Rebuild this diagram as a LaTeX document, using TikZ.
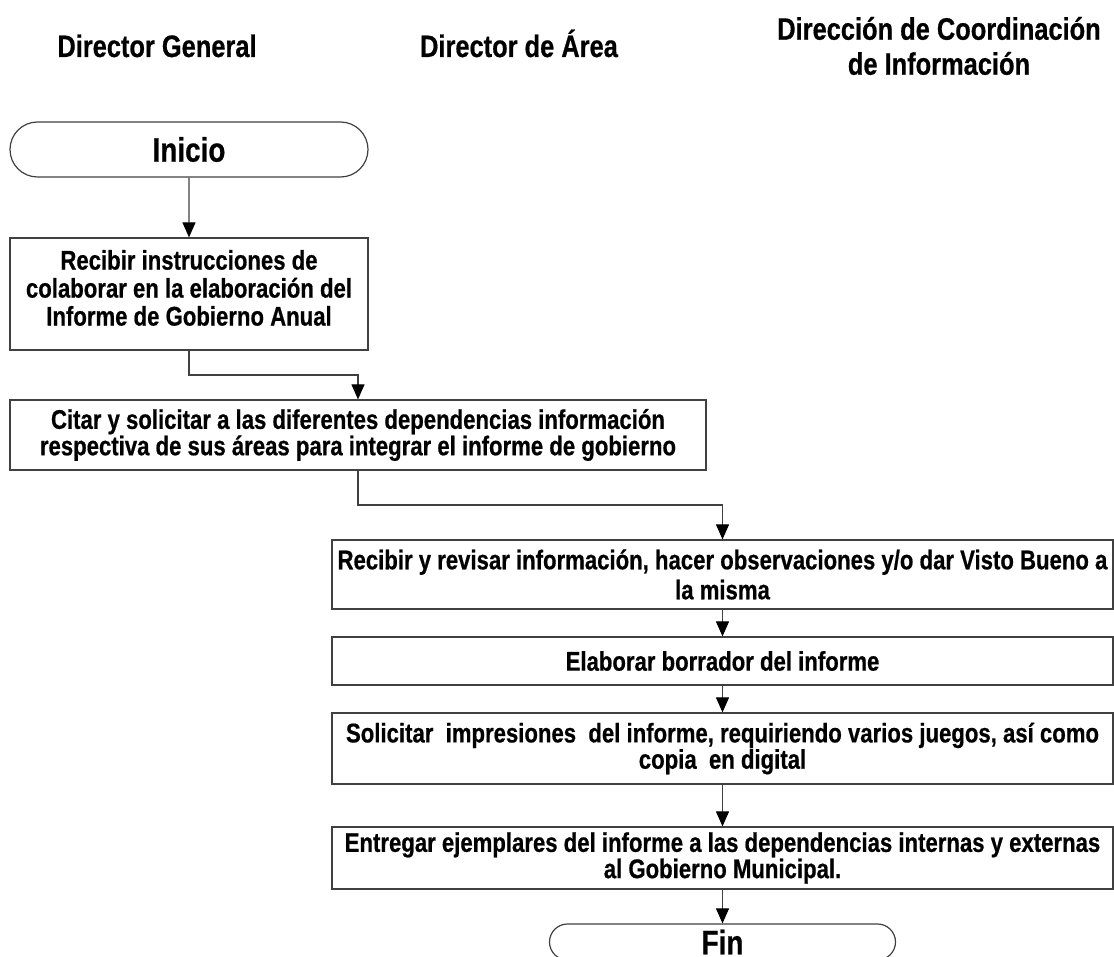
\documentclass[tikz,border=0pt]{standalone}
\usepackage{fontspec}
\setmainfont{Liberation Sans}[FakeStretch=0.82, BoldFeatures={FakeBold=0.6}]
\usetikzlibrary{shapes.misc,arrows.meta,calc}
\begin{document}
\begin{tikzpicture}[x=1pt,y=-1pt,
  every node/.style={font=\bfseries},
  lane/.style={font=\bfseries\fontsize{31}{35}\selectfont, align=center, inner sep=0pt},
  proc/.style={draw=black!75, line width=1.2pt, rectangle, inner sep=0pt, align=center,
    font=\bfseries\fontsize{27}{25}\selectfont},
  term/.style={draw=black!75, line width=1.2pt, rounded rectangle, inner xsep=0pt, inner ysep=0pt,
    font=\bfseries\fontsize{34}{36}\selectfont},
  flow/.style={draw=black!75, line width=1.1pt, -{Triangle[length=15pt,width=13pt,color=black]}},
  elbow/.style={to path={(\tikztostart) |- ($(\tikztostart)!0.5!(\tikztotarget)$) -| (\tikztotarget)}}
]
\useasboundingbox (0,0) rectangle (1114,957);

% lane headings
\node[lane, anchor=base] (hdg) at (157,57) {Director General};
\node[lane, anchor=base] (hda) at (519,57) {Director de Área};
\node[lane] (hdc) at (939,46) {Dirección de Coordinación\\de Información};

% nodes
\node[term, minimum width=358pt, minimum height=55pt] (ini) at (189,149.5) {Inicio};
\node[proc, minimum width=358pt, minimum height=112pt, font=\bfseries\fontsize{27}{28}\selectfont] (b1) at (189,294)
  {Recibir instrucciones de\\colaborar en la elaboración del\\Informe de Gobierno Anual\\[-24pt]\strut};
\node[proc, minimum width=696pt, minimum height=70pt] (b2) at (358,435)
  {Citar y solicitar a las diferentes dependencias información\\respectiva de sus áreas para integrar el informe de gobierno};
\node[proc, minimum width=781pt, minimum height=69pt, font=\bfseries\fontsize{27}{30}\selectfont] (b3) at (722.5,574.5)
  {Recibir y revisar información, hacer observaciones y/o dar Visto Bueno a\\la misma};
\node[proc, minimum width=781pt, minimum height=48pt] (b4) at (722.5,661)
  {Elaborar borrador del informe};
\node[proc, minimum width=781pt, minimum height=71pt] (b5) at (722.5,748.5)
  {Solicitar\ \ impresiones\ \ del informe, requiriendo varios juegos, así como\\copia\ \ en digital};
\node[proc, minimum width=781pt, minimum height=62pt] (b6) at (722.5,858)
  {Entregar ejemplares del informe a las dependencias internas y externas\\al Gobierno Municipal.};
\node[term, minimum width=346pt, minimum height=36pt] (fin) at (722.5,942) {Fin};

% connectors
\draw[flow] (ini) -- (b1);
\draw[flow] (b1.south) to[elbow] (b2.north);
\draw[flow] (b2.south) to[elbow] (b3.north);
\draw[flow] (b3) -- (b4);
\draw[flow] (b4) -- (b5);
\draw[flow] (b5) -- (b6);
\draw[flow] (b6) -- (fin);
\end{tikzpicture}
\end{document}
